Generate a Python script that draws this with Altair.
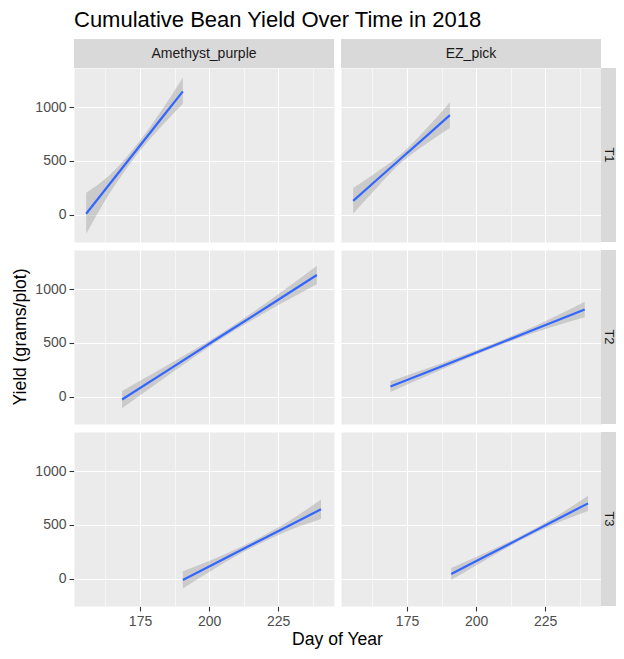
import altair as alt
import pandas as pd

FONT = "Liberation Sans, Arial, sans-serif"

title_text = "Cumulative Bean Yield Over Time in 2018"
x_title = "Day of Year"
y_title = "Yield (grams/plot)"

varieties = ["Amethyst_purple", "EZ_pick"]
treatments = ["T1", "T2", "T3"]

# Fitted line (geom_smooth lm) and its confidence band, read per panel
am_t1_day = [155.5, 164, 173, 182, 190.5]
am_t1_fit = [10, 286, 578, 870, 1145]
am_t1_lo = [-177, 200, 530, 800, 1031]
am_t1_hi = [205, 370, 625, 940, 1275]

ez_t1_day = [155.5, 164, 173, 182, 190.5]
ez_t1_fit = [130, 323, 527, 730, 925]
ez_t1_lo = [10, 250, 487, 660, 805]
ez_t1_hi = [250, 396, 567, 800, 1045]

am_t2_day = [168.5, 186, 204, 221.5, 239]
am_t2_fit = [-25, 262, 557, 843, 1130]
am_t2_lo = [-105, 215, 532, 800, 1045]
am_t2_hi = [55, 309, 582, 886, 1215]

ez_t2_day = [169, 186.5, 204, 221.5, 239.3]
ez_t2_fit = [95, 273, 451, 629, 810]
ez_t2_lo = [45, 243, 431, 598, 738]
ez_t2_hi = [145, 303, 471, 660, 882]

am_t3_day = [190.5, 203, 215.5, 228, 240.5]
am_t3_fit = [-10, 154, 318, 481, 645]
am_t3_lo = [-90, 110, 290, 440, 555]
am_t3_hi = [70, 198, 346, 522, 735]

ez_t3_day = [191, 203.4, 215.8, 228.1, 240.5]
ez_t3_fit = [45, 209, 373, 536, 700]
ez_t3_lo = [-10, 175, 353, 505, 630]
ez_t3_hi = [100, 243, 393, 567, 770]

x_ticks = [162.5, 175, 187.5, 200, 212.5, 225, 237.5]
y_ticks = [0, 250, 500, 750, 1000, 1250]

panels = [
    ("Amethyst_purple", "T1", am_t1_day, am_t1_fit, am_t1_lo, am_t1_hi),
    ("EZ_pick", "T1", ez_t1_day, ez_t1_fit, ez_t1_lo, ez_t1_hi),
    ("Amethyst_purple", "T2", am_t2_day, am_t2_fit, am_t2_lo, am_t2_hi),
    ("EZ_pick", "T2", ez_t2_day, ez_t2_fit, ez_t2_lo, ez_t2_hi),
    ("Amethyst_purple", "T3", am_t3_day, am_t3_fit, am_t3_lo, am_t3_hi),
    ("EZ_pick", "T3", ez_t3_day, ez_t3_fit, ez_t3_lo, ez_t3_hi),
]
rows = []
for v, t, d, f, lo, hi in panels:
    for i in range(len(d)):
        rows.append({"variety": v, "trt": t, "day": d[i], "fit": f[i], "lo": lo[i], "hi": hi[i]})
df = pd.DataFrame(rows)

W, H = 260, 174
STRIP = 29
RSTRIP = 15

xscale = alt.Scale(domain=[151.1, 245.2], nice=False, zero=False)
yscale = alt.Scale(domain=[-252, 1362], nice=False, zero=False)

xaxis = alt.Axis(
    values=x_ticks, format="d", labelFontSize=14, labelFont=FONT, labelColor="#4D4D4D",
    labelExpr="datum.value % 25 === 0 ? datum.label : ''",
    gridWidth={"condition": {"test": "datum.value % 25 === 0", "value": 1.1}, "value": 0.55},
    tickOpacity={"condition": {"test": "datum.value % 25 === 0", "value": 1}, "value": 0},
    title=None,
)
yaxis = alt.Axis(
    values=y_ticks, format="d", labelFontSize=14, labelFont=FONT, labelColor="#4D4D4D",
    labelExpr="datum.value % 500 === 0 ? datum.label : ''",
    gridWidth={"condition": {"test": "datum.value % 500 === 0", "value": 1.1}, "value": 0.55},
    tickOpacity={"condition": {"test": "datum.value % 500 === 0", "value": 1}, "value": 0},
    title=None,
)

band = alt.Chart().mark_area(color="#999999", opacity=0.4, interpolate="monotone").encode(
    x=alt.X("day:Q", scale=xscale, axis=xaxis),
    y=alt.Y("lo:Q", scale=yscale, axis=yaxis),
    y2="hi:Q",
)
line = alt.Chart().mark_line(color="#3366FF", strokeWidth=2.2).encode(
    x="day:Q", y="fit:Q"
)

top_base = alt.Chart().transform_filter(alt.datum.trt == "T1").transform_aggregate(
    n="count()", groupby=["variety", "trt"]
)
top_rect = top_base.mark_rect(color="#D9D9D9").encode(
    x=alt.value(0), x2=alt.value(W), y=alt.value(-STRIP), y2=alt.value(0)
)
top_text = top_base.mark_text(font=FONT, fontSize=14, color="#1A1A1A", baseline="middle", align="center").encode(
    x=alt.value(W / 2), y=alt.value(-STRIP / 2), text="variety:N"
)

right_base = alt.Chart().transform_filter(alt.datum.variety == "EZ_pick").transform_aggregate(
    n="count()", groupby=["variety", "trt"]
)
right_rect = right_base.mark_rect(color="#D9D9D9").encode(
    x=alt.value(W), x2=alt.value(W + RSTRIP), y=alt.value(0), y2=alt.value(H)
)
right_text = right_base.mark_text(font=FONT, fontSize=13, color="#1A1A1A", baseline="middle", align="center", angle=90).encode(
    x=alt.value(W + 7.5), y=alt.value(H / 2), text="trt:N"
)

# shared axis titles, drawn once
ytitle = alt.Chart().transform_filter(
    (alt.datum.variety == "Amethyst_purple") & (alt.datum.trt == "T2")
).transform_aggregate(n="count()", groupby=["variety", "trt"]).mark_text(
    text=y_title, font=FONT, fontSize=17.6, color="#000000", angle=270, baseline="middle", align="center"
).encode(x=alt.value(-52.8), y=alt.value(H / 2))

xtitle = alt.Chart().transform_filter(
    (alt.datum.variety == "Amethyst_purple") & (alt.datum.trt == "T3")
).transform_aggregate(n="count()", groupby=["variety", "trt"]).mark_text(
    text=x_title, font=FONT, fontSize=17.6, color="#000000", baseline="alphabetic", align="center"
).encode(x=alt.value(W + 3.5), y=alt.value(H + 39))

layered = alt.layer(band, line, top_rect, top_text, right_rect, right_text, ytitle, xtitle, data=df).properties(
    width=W, height=H
)

chart = layered.facet(
    row=alt.Row("trt:N", sort=treatments, title=None, header=alt.Header(labels=False, labelPadding=0)),
    column=alt.Column("variety:N", sort=varieties, title=None, header=alt.Header(labels=False, labelPadding=0)),
    spacing={"row": 8, "column": 7},
    bounds="flush",
).properties(
    title=alt.Title(title_text, anchor="start", frame="group",
                    font=FONT, fontSize=22, fontWeight="normal", color="#000000", offset=7),
    padding={"left": 4, "top": 1, "right": 0, "bottom": 0},
    background="#FFFFFF",
).configure_view(
    fill="#EBEBEB", strokeOpacity=0
).configure_axis(
    labelFont=FONT, labelFontSize=14, labelColor="#4D4D4D",
    tickColor="#333333", tickSize=5, tickWidth=1.1, gridColor="#FFFFFF",
    domain=False, labelPadding=3,
)

chart.save("out.html", embed_options={"renderer": "svg", "actions": False})
